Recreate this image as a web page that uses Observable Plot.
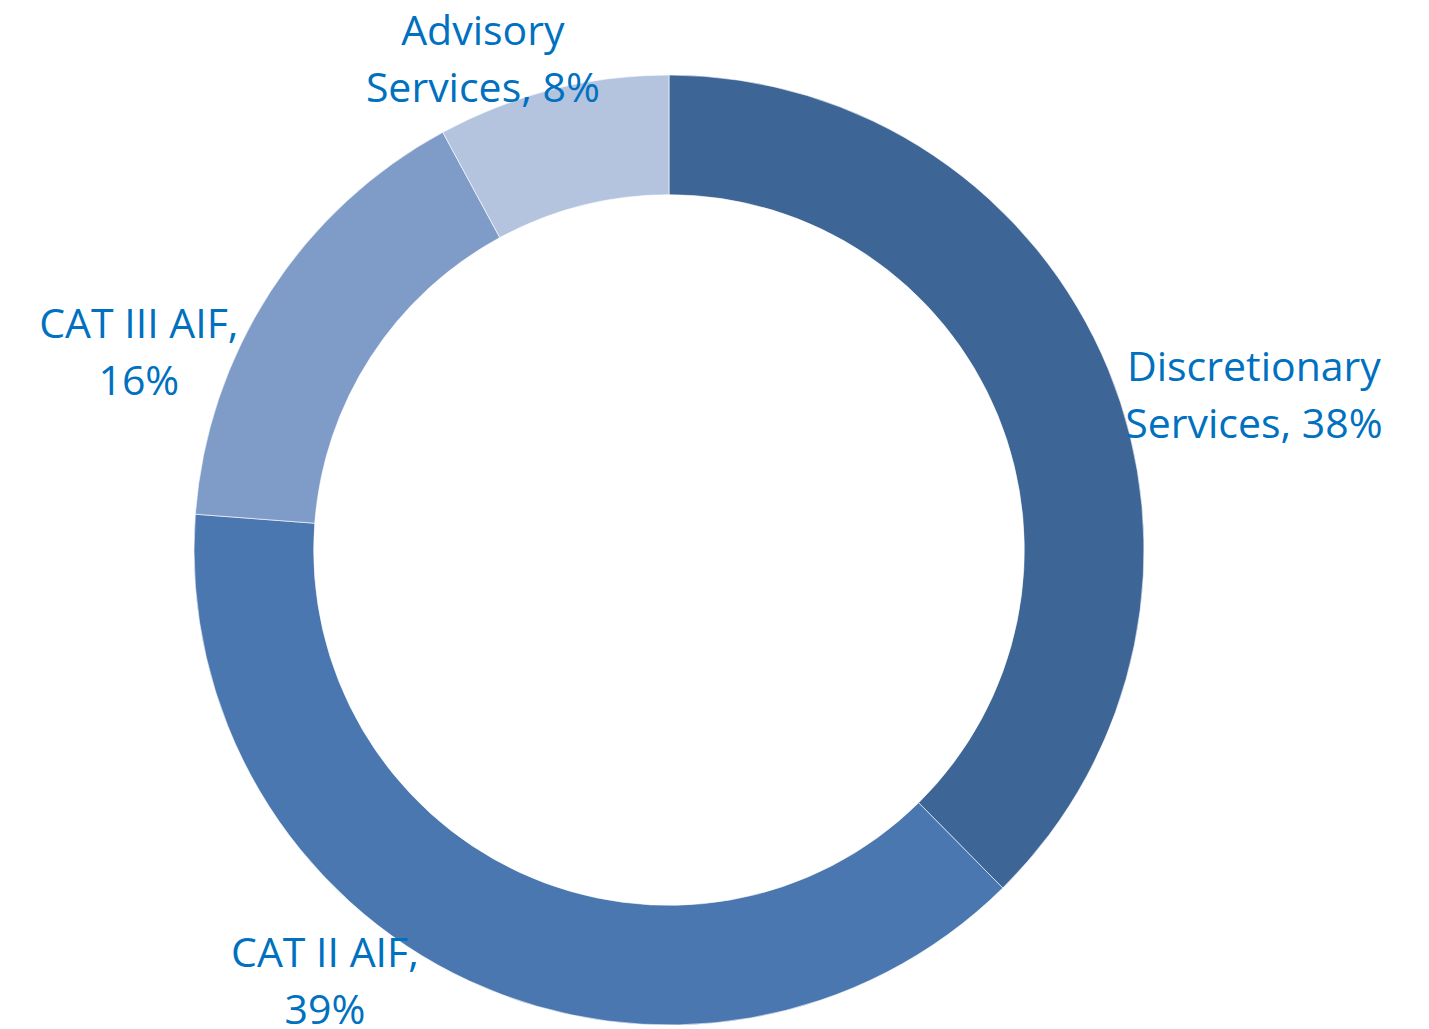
<!DOCTYPE html>
<html>
<head>
<meta charset="utf-8">
<script src="https://cdn.jsdelivr.net/npm/d3@7"></script>
<script src="https://cdn.jsdelivr.net/npm/@observablehq/plot@0.6"></script>
<style>
  html, body { margin: 0; padding: 0; background: #ffffff; }
  #chart svg { display: block; }
</style>
</head>
<body>
<div id="chart"></div>
<script>
// ---- data ----
const categories = ["Discretionary Services", "CAT II AIF", "CAT III AIF", "Advisory Services"];
const shares = [37.6, 38.6, 15.9, 7.9];
const labelNames = ["Discretionary\nServices", "CAT II AIF", "CAT III AIF", "Advisory\nServices"];
const sliceColors = ["#3d6595", "#4a77b0", "#7f9cc8", "#b4c3de"];

// ---- layout / style ----
const W = 1429, H = 1029;
const CX = 669, CY = 550, R = 475;
const INNER = 0.748;
const labelOffsets = [[145, 21], [-145, -4], [-132, 56], [-70, -35]];

const data = categories.map((c, i) => ({category: c, share: shares[i], name: labelNames[i]}));
const arcs = d3.pie().value(d => d.share).sort(null)(data);
arcs.forEach(a => {
  const mid = (a.startAngle + a.endAngle) / 2;
  a.data.mx = Math.sin(mid);
  a.data.my = Math.cos(mid);
  const p = Math.round(a.data.share);
  a.data.label = a.data.name.includes("\n") ? `${a.data.name}, ${p}%` : `${a.data.name},\n${p}%`;
});

function donut(index, scales, values, dimensions, context) {
  const x = scales.x, y = scales.y;
  const color = scales.color || d3.scaleOrdinal(categories, sliceColors);
  const cx = x(0), cy = y(0);
  const ro = x(1) - cx, ri = x(INNER) - cx;
  const arc = d3.arc().innerRadius(ri).outerRadius(ro);
  const g = d3.create("svg:g").attr("transform", `translate(${cx},${cy})`);
  g.selectAll("path")
    .data(arcs)
    .join("path")
    .attr("d", arc)
    .attr("fill", d => color(d.data.category))
    .attr("stroke", "#ffffff")
    .attr("stroke-width", 0.6);
  return g.node();
}

const textMarks = data.map((d, i) => Plot.text([d], {
  x: "mx", y: "my", text: "label",
  textAnchor: "middle", lineAnchor: "middle", lineHeight: 1.39,
  fontSize: 41, fill: "#0070c0",
  dx: labelOffsets[i][0], dy: labelOffsets[i][1]
}));

const chart = Plot.plot({
  width: W, height: H,
  margin: 0,
  x: {domain: [-CX / R, (W - CX) / R], axis: null},
  y: {domain: [-(H - CY) / R, CY / R], axis: null},
  color: {domain: categories, range: sliceColors},
  style: {fontFamily: "'Open Sans', sans-serif", background: "#ffffff", overflow: "visible"},
  marks: [donut, ...textMarks]
});
document.getElementById("chart").append(chart);
</script>
</body>
</html>
